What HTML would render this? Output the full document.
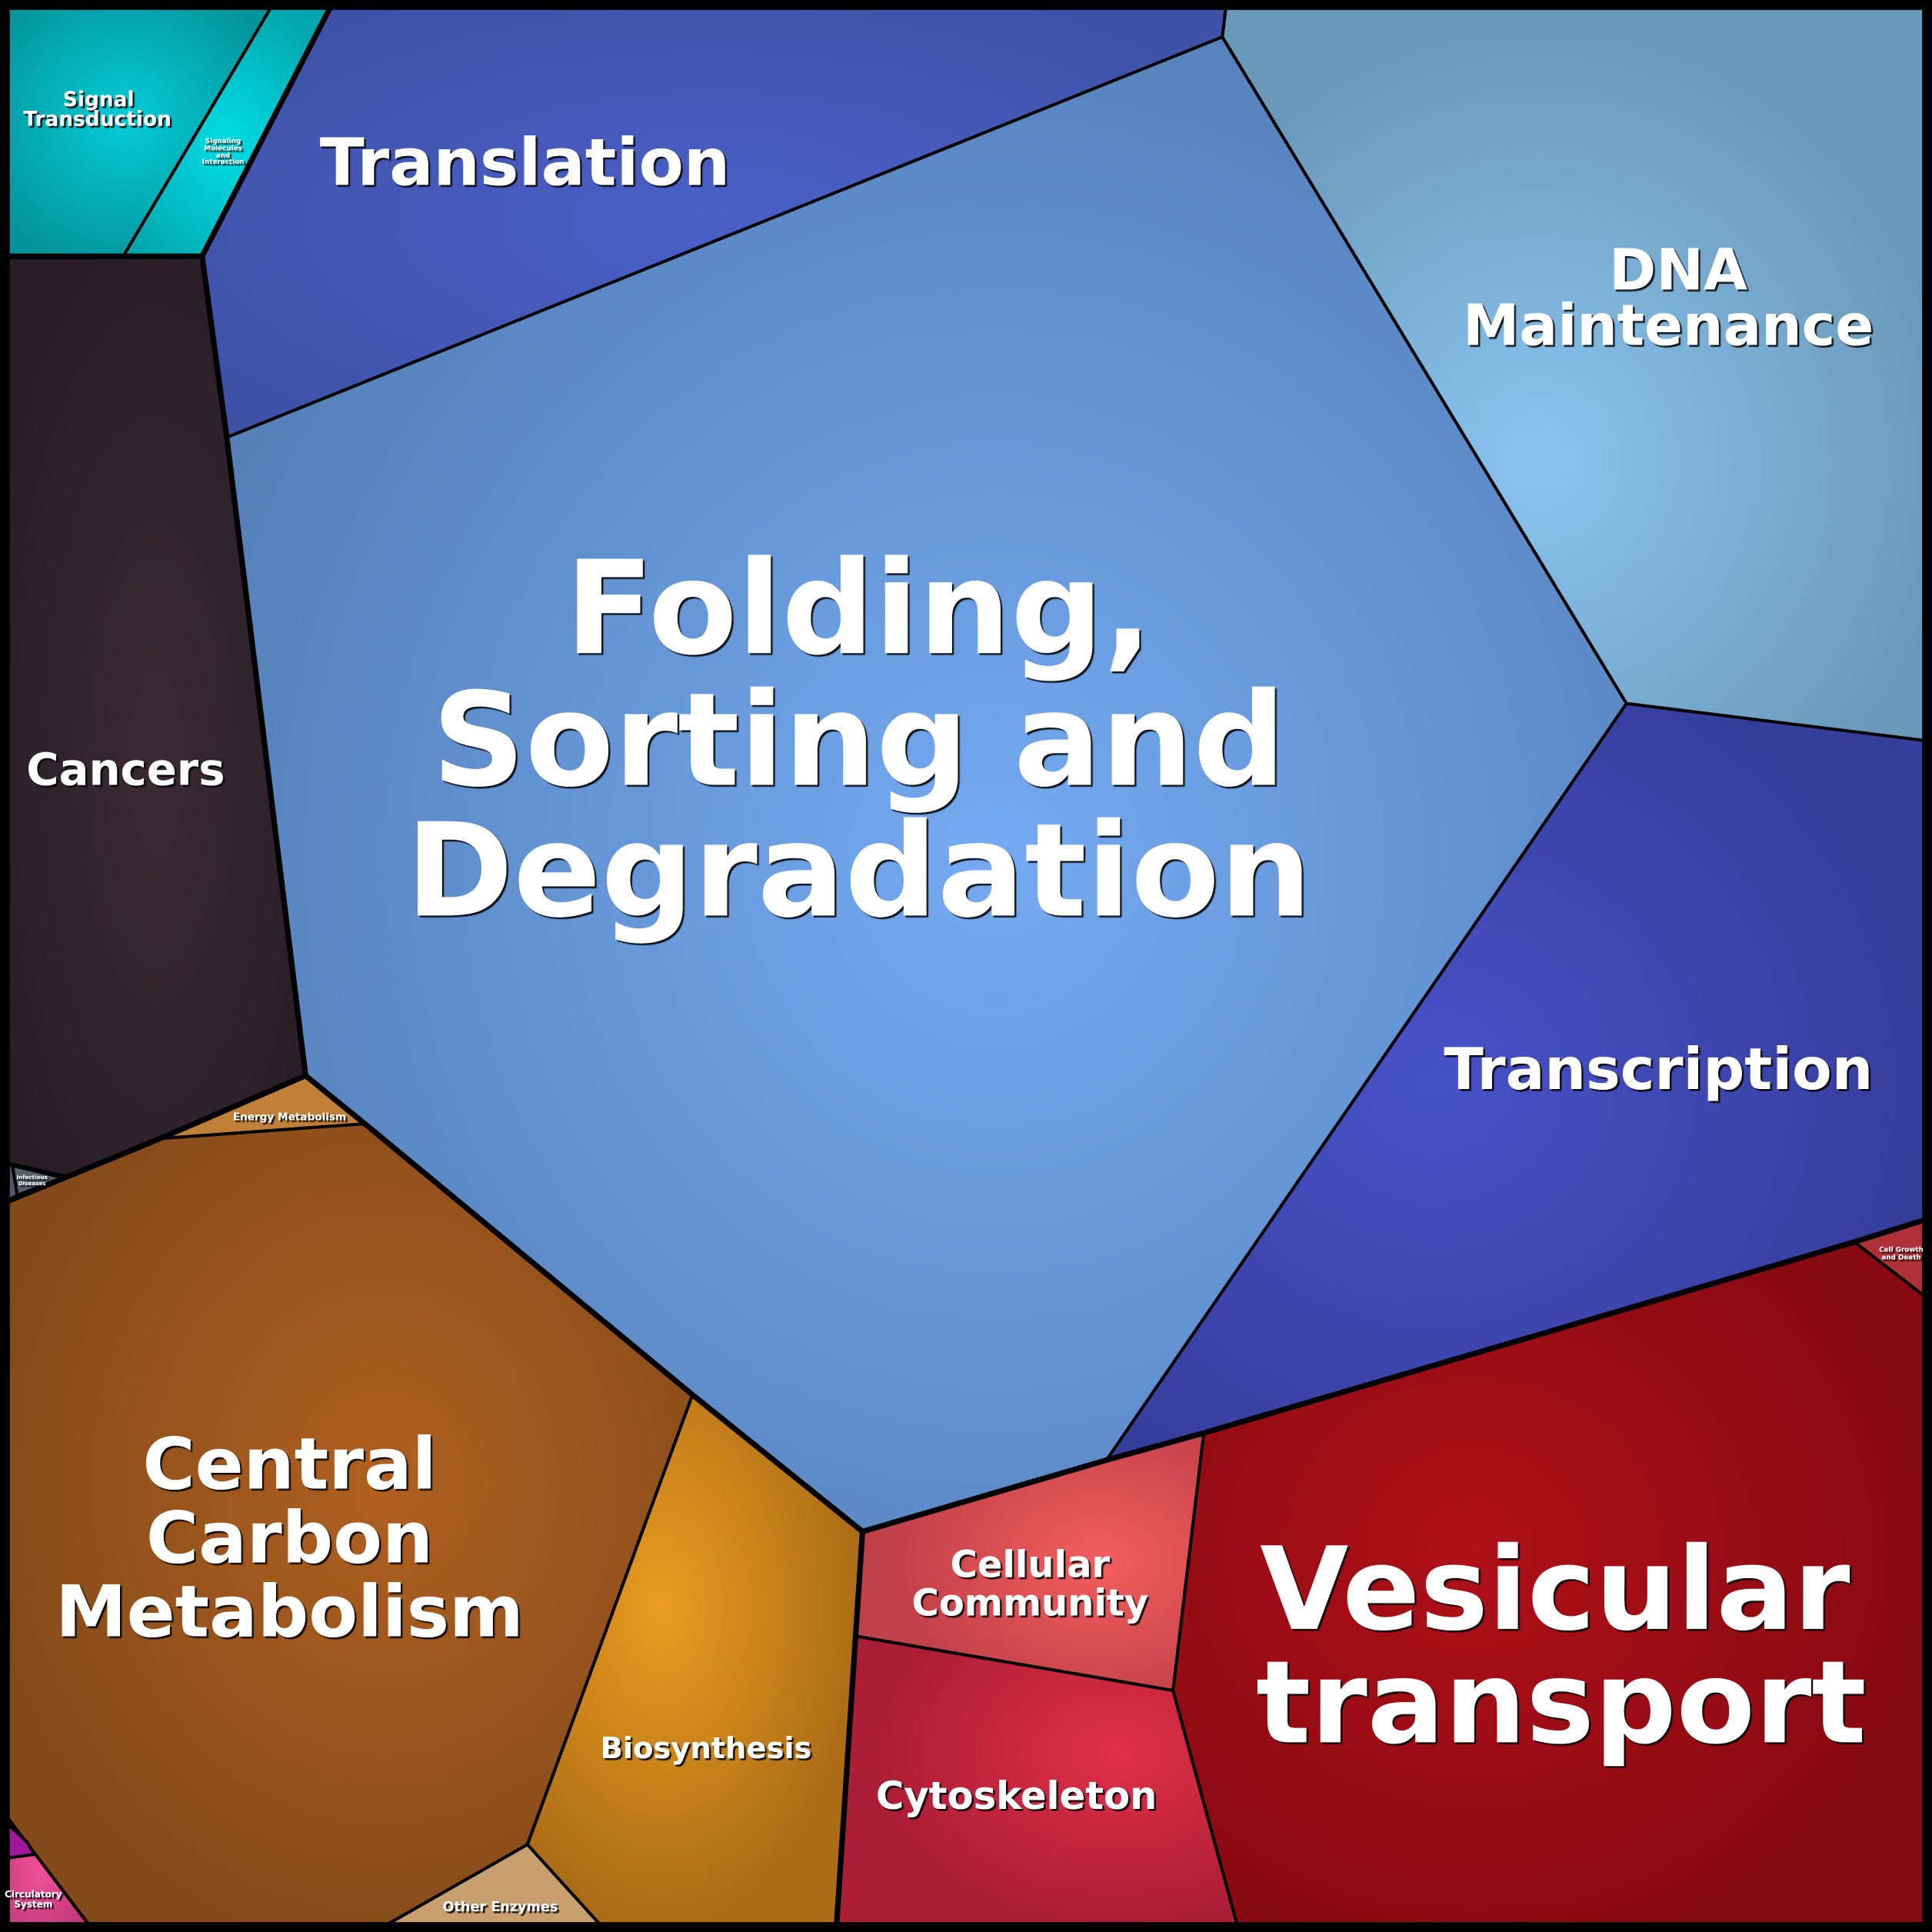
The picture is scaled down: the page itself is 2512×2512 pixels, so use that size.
<!DOCTYPE html>
<html><head><meta charset="utf-8"><style>html,body{margin:0;padding:0;background:#000}svg{display:block}</style></head><body>
<svg width="2512" height="2512" viewBox="0 0 1568 1568" xmlns="http://www.w3.org/2000/svg">
<defs>
<radialGradient id="gSig" cx="0.45" cy="0.45" r="0.6"><stop offset="0" stop-color="#04ccd6"/><stop offset="1" stop-color="#04959c"/></radialGradient>
<radialGradient id="gSigM" cx="0.5" cy="0.55" r="0.6"><stop offset="0" stop-color="#00dde6"/><stop offset="1" stop-color="#03a6ad"/></radialGradient>
<radialGradient id="gTr" cx="0.5" cy="0.5" r="0.6"><stop offset="0" stop-color="#4a60c8"/><stop offset="1" stop-color="#3f52a8"/></radialGradient>
<radialGradient id="gFo" cx="0.55" cy="0.55" r="0.6"><stop offset="0" stop-color="#74aaf2"/><stop offset="1" stop-color="#5580b8"/></radialGradient>
<radialGradient id="gDNA" cx="0.45" cy="0.62" r="0.6"><stop offset="0" stop-color="#8ac4f0"/><stop offset="1" stop-color="#6a98b8"/></radialGradient>
<radialGradient id="gTc" cx="0.4" cy="0.5" r="0.6"><stop offset="0" stop-color="#4852c8"/><stop offset="1" stop-color="#363e9c"/></radialGradient>
<radialGradient id="gVe" cx="0.4" cy="0.45" r="0.6"><stop offset="0" stop-color="#b01018"/><stop offset="1" stop-color="#880a12"/></radialGradient>
<radialGradient id="gCC" cx="0.7" cy="0.5" r="0.6"><stop offset="0" stop-color="#f45e5e"/><stop offset="1" stop-color="#c04048"/></radialGradient>
<radialGradient id="gCy" cx="0.7" cy="0.4" r="0.6"><stop offset="0" stop-color="#e03048"/><stop offset="1" stop-color="#ac1e36"/></radialGradient>
<radialGradient id="gBi" cx="0.4" cy="0.4" r="0.6"><stop offset="0" stop-color="#ea9c20"/><stop offset="1" stop-color="#ac6c16"/></radialGradient>
<radialGradient id="gCe" cx="0.55" cy="0.45" r="0.6"><stop offset="0" stop-color="#b06020"/><stop offset="1" stop-color="#844a1a"/></radialGradient>
<radialGradient id="gCa" cx="0.5" cy="0.55" r="0.6"><stop offset="0" stop-color="#3a2a32"/><stop offset="1" stop-color="#2a1e26"/></radialGradient>
<radialGradient id="gCi" cx="0.4" cy="0.5" r="0.6"><stop offset="0" stop-color="#f05098"/><stop offset="1" stop-color="#c43c7c"/></radialGradient>
<filter id="sh"><feDropShadow dx="1.5" dy="1.5" stdDeviation="0.3" flood-color="#000" flood-opacity="0.9"/></filter>
</defs>
<rect x="0" y="0" width="1568" height="1568" fill="#000"/>
<g stroke="#000" stroke-width="2.5" stroke-linejoin="round">
<polygon points="6,6 220,6 100,208 6,208" fill="url(#gSig)"/>
<polygon points="220,6 268,6 164,208 100,208" fill="url(#gSigM)"/>
<polygon points="268,6 995,6 992,30 184,355 164,208" fill="url(#gTr)"/>
<polygon points="995,6 1562,6 1562,601 1320,571 992,30" fill="url(#gDNA)"/>
<polygon points="184,355 992,30 1320,571 898,1185 700,1243 562,1132 296,912 248,873" fill="url(#gFo)"/>
<polygon points="1320,571 1562,601 1562,990 1505,1008 977,1163 898,1185" fill="url(#gTc)"/>
<polygon points="1505,1008 1562,990 1562,1052" fill="#b03038"/>
<polygon points="977,1163 1505,1008 1562,1052 1562,1562 1004,1562 952,1372" fill="url(#gVe)"/>
<polygon points="700,1243 898,1185 977,1163 952,1372 695,1328" fill="url(#gCC)"/>
<polygon points="695,1328 952,1372 1004,1562 679,1562" fill="url(#gCy)"/>
<polygon points="562,1132 700,1243 679,1562 487,1562 428,1497" fill="url(#gBi)"/>
<polygon points="428,1497 487,1562 314,1562" fill="#c8a070"/>
<polygon points="6,975 130,924 296,912 562,1132 428,1497 314,1562 72,1562 6,1475" fill="url(#gCe)"/>
<polygon points="130,924 248,873 296,912" fill="#c08038"/>
<polygon points="6,208 164,208 184,355 248,873 130,924 55,955 6,944" fill="url(#gCa)"/>
<polygon points="10,946 52,956 14,970" fill="#5a5e66"/>
<polygon points="6,944 10,946 14,970 6,975" fill="#5a5068"/>
<polygon points="6,1475 72,1562 6,1562" fill="url(#gCi)"/>
<polygon points="6,1480 22,1495 28,1505 6,1508" fill="#a0189a"/>
</g>
<g fill="none" stroke="#000" stroke-width="4.5" stroke-linejoin="round">
<polyline points="6,208 164,208 184,355 248,873 296,912 562,1132 700,1243 898,1185 977,1163 1505,1008 1562,990"/>
<polyline points="700,1243 679,1562"/>
<polyline points="6,975 130,924 248,873"/>
<polyline points="268,6 164,208"/>
<rect x="4" y="4" width="1560" height="1560" stroke-width="8"/>
</g>
<g fill="#fff" font-family="'DejaVu Sans','Liberation Sans',sans-serif" font-weight="bold" text-anchor="middle" filter="url(#sh)">
<text x="697" y="530" font-size="105">Folding,</text>
<text x="697" y="637" font-size="105">Sorting and</text>
<text x="697" y="743" font-size="105">Degradation</text>
<text x="1262" y="1322" font-size="93">Vesicular</text>
<text x="1267" y="1414" font-size="93">transport</text>
<text x="426" y="150" font-size="53">Translation</text>
<text x="1362" y="235" font-size="46">DNA</text>
<text x="1354" y="280" font-size="46">Maintenance</text>
<text x="1346" y="884" font-size="47">Transcription</text>
<text x="102" y="637" font-size="36">Cancers</text>
<text x="235" y="1208" font-size="58">Central</text>
<text x="235" y="1268" font-size="58">Carbon</text>
<text x="235" y="1328" font-size="58">Metabolism</text>
<text x="836" y="1280" font-size="30">Cellular</text>
<text x="836" y="1311" font-size="30">Community</text>
<text x="825" y="1468" font-size="31">Cytoskeleton</text>
<text x="573" y="1427" font-size="24">Biosynthesis</text>
<text x="80" y="86" font-size="16.5">Signal</text>
<text x="79" y="102" font-size="16.5">Transduction</text>
<text x="406" y="1551" font-size="11">Other Enzymes</text>
<text x="235" y="909" font-size="8.5">Energy Metabolism</text>
<g font-size="5.5"><text x="181" y="116">Signaling</text><text x="181" y="122">Molecules</text><text x="181" y="128">and</text><text x="181" y="133">Interaction</text></g>
<g font-size="5.5"><text x="1543" y="1016">Cell Growth</text><text x="1543" y="1022">and Death</text></g>
<g font-size="4.5"><text x="26" y="957">Infectious</text><text x="26" y="962">Diseases</text></g>
<g font-size="7.5"><text x="27" y="1540">Circulatory</text><text x="27" y="1548">System</text></g>
</g>
</svg>
</body></html>
